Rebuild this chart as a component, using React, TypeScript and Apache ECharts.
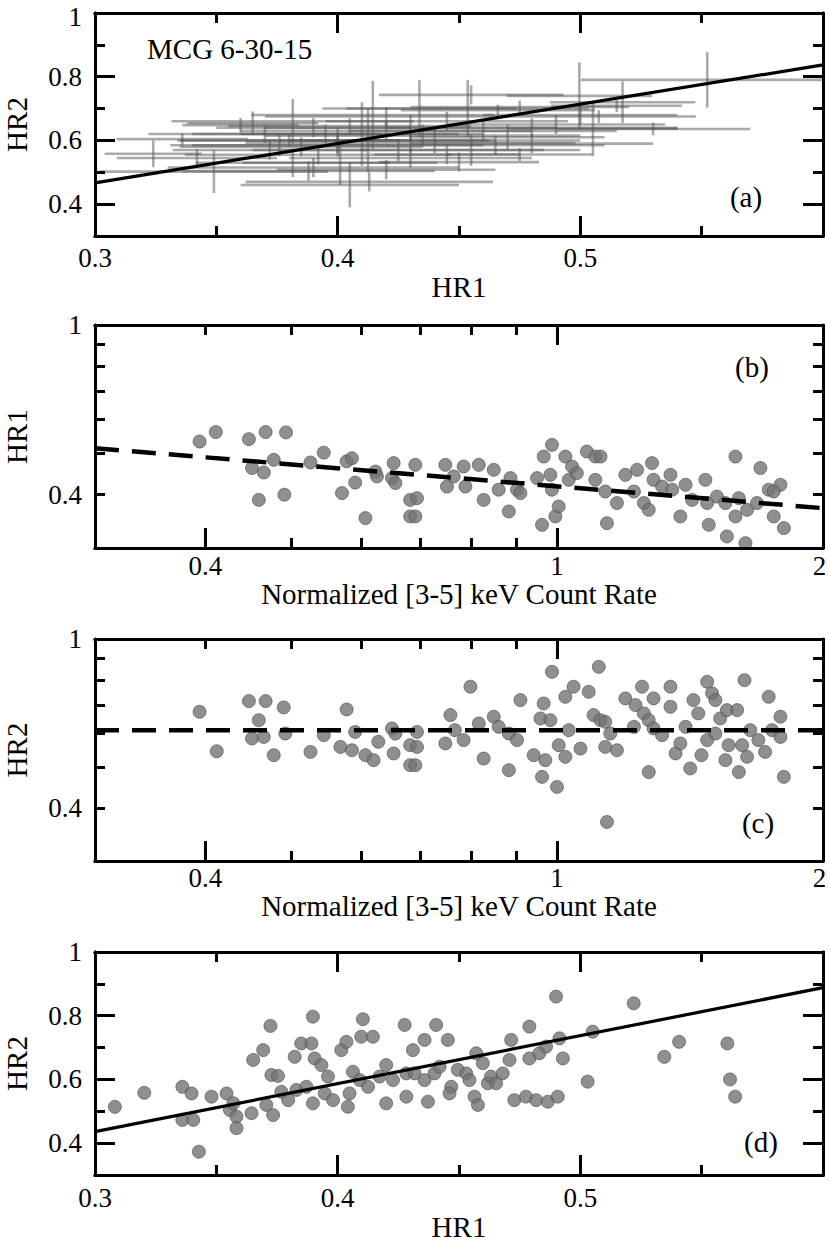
import React, { useEffect, useRef } from 'react';
import * as echarts from 'echarts';

const FONT = "'Liberation Serif', 'Times New Roman', Times, serif";
const L = (v: number) => Math.log10(v);

// ---------- Panel (a): HR1, HR2, HR1 half-error, HR2 half-error ----------
const panelA_errorBars: [number, number, number, number][] = [
  [0.324, 0.558, 0.020, 0.042], [0.336, 0.604, 0.027, 0.018], [0.342, 0.545, 0.033, 0.027],
  [0.349, 0.502, 0.047, 0.067], [0.360, 0.648, 0.024, 0.023], [0.365, 0.654, 0.027, 0.037],
  [0.370, 0.620, 0.048, 0.028], [0.372, 0.570, 0.040, 0.030], [0.376, 0.585, 0.045, 0.035],
  [0.380, 0.600, 0.046, 0.020], [0.3815, 0.660, 0.050, 0.070], [0.3815, 0.530, 0.040, 0.045],
  [0.388, 0.504, 0.052, 0.030], [0.390, 0.640, 0.040, 0.030], [0.392, 0.555, 0.055, 0.030],
  [0.400, 0.585, 0.060, 0.035], [0.401, 0.530, 0.040, 0.070], [0.405, 0.460, 0.045, 0.070],
  [0.410, 0.620, 0.050, 0.100], [0.4125, 0.600, 0.050, 0.100], [0.413, 0.470, 0.051, 0.030],
  [0.4145, 0.680, 0.050, 0.107], [0.420, 0.675, 0.050, 0.030], [0.420, 0.508, 0.045, 0.030],
  [0.430, 0.640, 0.060, 0.040], [0.430, 0.592, 0.068, 0.030], [0.4337, 0.700, 0.040, 0.090],
  [0.440, 0.600, 0.060, 0.040], [0.445, 0.556, 0.030, 0.030], [0.450, 0.532, 0.033, 0.030],
  [0.4536, 0.700, 0.050, 0.090], [0.455, 0.743, 0.038, 0.030], [0.455, 0.570, 0.045, 0.050],
  [0.466, 0.695, 0.040, 0.017], [0.470, 0.610, 0.040, 0.040], [0.475, 0.556, 0.030, 0.020],
  [0.480, 0.590, 0.050, 0.030], [0.490, 0.650, 0.045, 0.030], [0.4996, 0.740, 0.030, 0.105],
  [0.5052, 0.637, 0.035, 0.086], [0.5076, 0.675, 0.040, 0.020], [0.515, 0.709, 0.027, 0.020],
  [0.5174, 0.720, 0.030, 0.065], [0.530, 0.636, 0.040, 0.020], [0.5523, 0.790, 0.052, 0.087],
  [0.395, 0.620, 0.055, 0.030], [0.405, 0.645, 0.050, 0.025], [0.420, 0.630, 0.060, 0.030],
  [0.435, 0.615, 0.065, 0.035], [0.445, 0.660, 0.050, 0.030], [0.460, 0.630, 0.055, 0.030],
  [0.400, 0.600, 0.065, 0.040], [0.385, 0.580, 0.050, 0.030], [0.425, 0.570, 0.060, 0.035],
  [0.430, 0.545, 0.050, 0.030], [0.390, 0.515, 0.060, 0.030], [0.480, 0.640, 0.060, 0.030],
  [0.465, 0.585, 0.045, 0.030], [0.500, 0.680, 0.040, 0.030], [0.475, 0.705, 0.045, 0.020],
];
const fitA: [number, number][] = [[0.3, 0.467], [0.6, 0.837]];

// ---------- Panel (b): normalized [3-5] keV count rate vs HR1 ----------
const panelB_points: [number, number][] = [
  [0.394, 0.533], [0.411, 0.561], [0.448, 0.540], [0.468, 0.561], [0.4935, 0.560], [0.4517, 0.462],
  [0.4657, 0.451], [0.478, 0.483], [0.4597, 0.389], [0.4914, 0.400], [0.526, 0.476], [0.5445, 0.502],
  [0.571, 0.4035], [0.591, 0.427], [0.578, 0.479], [0.586, 0.487], [0.607, 0.3526], [0.623, 0.4533],
  [0.6255, 0.4414], [0.6533, 0.4744], [0.6505, 0.4375], [0.6563, 0.426], [0.682, 0.389], [0.682, 0.3557],
  [0.6913, 0.470], [0.6943, 0.3927], [0.6913, 0.3557], [0.7475, 0.470], [0.7507, 0.418], [0.764, 0.4414],
  [0.784, 0.4658], [0.7876, 0.418], [0.8156, 0.470], [0.826, 0.389], [0.848, 0.4575], [0.859, 0.411],
  [0.882, 0.3654], [0.8857, 0.4375], [0.901, 0.411], [0.909, 0.4035], [0.9493, 0.4375], [0.9617, 0.340],
  [0.9659, 0.4915], [0.9828, 0.4454], [0.987, 0.5236], [0.987, 0.411], [0.9957, 0.3557], [1.0044, 0.3754],
  [1.022, 0.4915], [1.031, 0.4335], [1.04, 0.4658], [1.053, 0.4494], [1.081, 0.505], [1.105, 0.4915],
  [1.12, 0.4915], [1.105, 0.4335], [1.134, 0.407], [1.139, 0.343], [1.169, 0.3825], [1.195, 0.4454],
  [1.232, 0.4575], [1.222, 0.407], [1.254, 0.3825], [1.281, 0.4744], [1.286, 0.4335], [1.27, 0.3687],
  [1.344, 0.4454], [1.315, 0.418], [1.35, 0.411], [1.398, 0.422], [1.379, 0.3557], [1.422, 0.389],
  [1.472, 0.4335], [1.479, 0.3825], [1.485, 0.340], [1.517, 0.396], [1.551, 0.3825], [1.557, 0.3193],
  [1.592, 0.4915], [1.592, 0.3557], [1.606, 0.3927], [1.634, 0.308], [1.641, 0.3687], [1.699, 0.462],
  [1.684, 0.3825], [1.736, 0.411], [1.759, 0.3557], [1.79, 0.422], [1.806, 0.334], [1.759, 0.407],
];
const fitB: [number, number][] = [[0.3, 0.514], [2, 0.372]];

// ---------- Panel (c): normalized [3-5] keV count rate vs HR2 ----------
const panelC_points: [number, number][] = [
  [0.394, 0.674], [0.412, 0.544], [0.448, 0.714], [0.468, 0.714], [0.4906, 0.690], [0.4597, 0.644],
  [0.4517, 0.583], [0.4657, 0.588], [0.478, 0.5326], [0.4926, 0.599], [0.526, 0.542], [0.5445, 0.5937],
  [0.578, 0.6825], [0.5687, 0.557], [0.586, 0.547], [0.591, 0.604], [0.607, 0.5326], [0.62, 0.5184],
  [0.6277, 0.5727], [0.6505, 0.6156], [0.6563, 0.599], [0.6533, 0.5376], [0.682, 0.5623], [0.682, 0.5044],
  [0.6943, 0.604], [0.6943, 0.557], [0.6913, 0.5044], [0.7475, 0.5675], [0.7575, 0.662], [0.7663, 0.610],
  [0.784, 0.578], [0.798, 0.772], [0.8156, 0.6326], [0.826, 0.523], [0.848, 0.656], [0.859, 0.621],
  [0.882, 0.491], [0.882, 0.599], [0.901, 0.578], [0.909, 0.718], [0.941, 0.5326], [0.9577, 0.650],
  [0.9659, 0.705], [0.97, 0.5184], [0.9617, 0.4735], [0.9828, 0.644], [0.987, 0.837], [1.0, 0.4484],
  [1.0044, 0.5623], [1.022, 0.528], [1.022, 0.731], [1.031, 0.610], [1.044, 0.772], [1.063, 0.552],
  [1.086, 0.751], [1.1, 0.662], [1.115, 0.860], [1.12, 0.644], [1.134, 0.557], [1.134, 0.638],
  [1.139, 0.3707], [1.149, 0.599], [1.169, 0.547], [1.195, 0.7246], [1.222, 0.621], [1.227, 0.699],
  [1.248, 0.772], [1.254, 0.668], [1.27, 0.486], [1.27, 0.644], [1.286, 0.6156], [1.286, 0.7246],
  [1.315, 0.5937], [1.344, 0.772], [1.344, 0.6925], [1.362, 0.5376], [1.379, 0.5675], [1.398, 0.621],
  [1.415, 0.4955], [1.427, 0.718], [1.445, 0.668], [1.457, 0.5326], [1.479, 0.793], [1.479, 0.578],
  [1.498, 0.745], [1.511, 0.718], [1.511, 0.599], [1.53, 0.650], [1.551, 0.5184], [1.557, 0.680],
  [1.564, 0.5623], [1.606, 0.486], [1.599, 0.680], [1.63, 0.800], [1.62, 0.5623], [1.641, 0.528],
  [1.655, 0.610], [1.69, 0.578], [1.72, 0.542], [1.736, 0.731], [1.751, 0.610], [1.79, 0.656],
  [1.79, 0.588], [1.806, 0.4735],
];
const fitC: [number, number][] = [[0.3, 0.61], [2, 0.61]];

// ---------- Panel (d): HR1 vs HR2 ----------
const panelD_points: [number, number][] = [
  [0.3082, 0.514], [0.3203, 0.558], [0.336, 0.577], [0.3398, 0.556], [0.336, 0.473], [0.3405, 0.473],
  [0.3428, 0.373], [0.348, 0.546], [0.3542, 0.556], [0.3556, 0.504], [0.3583, 0.483], [0.3583, 0.447],
  [0.357, 0.525], [0.3645, 0.494], [0.3652, 0.661], [0.3693, 0.692], [0.3723, 0.768], [0.3727, 0.614],
  [0.3754, 0.611], [0.3706, 0.520], [0.3734, 0.488], [0.3768, 0.561], [0.3796, 0.535], [0.383, 0.567],
  [0.3823, 0.671], [0.385, 0.713], [0.3892, 0.713], [0.3898, 0.797], [0.3871, 0.577], [0.3898, 0.525],
  [0.3905, 0.666], [0.3933, 0.645], [0.396, 0.609], [0.3947, 0.556], [0.3981, 0.535], [0.4015, 0.692],
  [0.4036, 0.718], [0.4049, 0.556], [0.4042, 0.514], [0.4063, 0.624], [0.4091, 0.598], [0.4104, 0.789],
  [0.4097, 0.734], [0.4145, 0.734], [0.4125, 0.577], [0.4173, 0.609], [0.42, 0.525], [0.42, 0.645],
  [0.4228, 0.598], [0.4276, 0.771], [0.4283, 0.619], [0.4283, 0.546], [0.431, 0.692], [0.4317, 0.619],
  [0.4358, 0.724], [0.4406, 0.771], [0.4454, 0.724], [0.4358, 0.598], [0.4372, 0.530], [0.4399, 0.619],
  [0.442, 0.640], [0.4468, 0.577], [0.4461, 0.556], [0.4495, 0.630], [0.453, 0.619], [0.4543, 0.598],
  [0.4564, 0.546], [0.4571, 0.682], [0.4578, 0.520], [0.4598, 0.651], [0.4619, 0.588], [0.4632, 0.609],
  [0.4653, 0.588], [0.468, 0.619], [0.4708, 0.661], [0.4715, 0.724], [0.4728, 0.535], [0.4776, 0.546],
  [0.479, 0.766], [0.479, 0.666], [0.4818, 0.535], [0.4831, 0.682], [0.4859, 0.703], [0.4866, 0.530],
  [0.49, 0.860], [0.4907, 0.546], [0.4914, 0.729], [0.4928, 0.666], [0.503, 0.593], [0.5051, 0.750],
  [0.522, 0.839], [0.5346, 0.671], [0.5407, 0.718], [0.5606, 0.713], [0.5617, 0.600], [0.5638, 0.546],
];
const fitD: [number, number][] = [[0.3, 0.436], [0.6, 0.888]];

// ---------- Tick values ----------
const hrXMajor = [0.3, 0.4, 0.5];
const hrXMinor = [0.35, 0.45, 0.55];
const hrYMajor = [0.4, 0.6, 0.8];
const hrYMinor = [0.5, 0.7, 0.9];
const hrYLabels = [0.4, 0.6, 0.8, 1];
const rateLabels = [0.4, 1, 2];
const rateMajorBottom = [0.4, 1];
const rateMinorBottom = [0.5, 0.6, 0.7, 0.8, 0.9];
const rateMinorTop = [0.4, 0.5, 0.6, 0.7, 0.8, 0.9];
const logYTicks = [0.4, 0.5, 0.6, 0.7, 0.8, 0.9];
const logYLabels = [0.4, 1];

const panelLabels = ['(a)', '(b)', '(c)', '(d)'];
const sourceName = 'MCG 6-30-15';
const rateTitle = 'Normalized [3-5] keV Count Rate';

type AxOpt = {
  grid: number; pos: string; min: number; max: number; ticks?: number[]; len?: number;
  labels?: number[]; fmt?: (v: number) => string; margin?: number; name?: string; nameGap?: number;
};
function axis(o: AxOpt) {
  return {
    type: 'value', gridIndex: o.grid, position: o.pos, min: o.min, max: o.max,
    axisLine: { show: true, onZero: false, lineStyle: { color: '#000', width: 3 } },
    axisTick: {
      show: !!o.ticks, inside: true, length: o.len ?? 10, customValues: o.ticks,
      lineStyle: { color: '#000', width: 3 },
    },
    axisLabel: o.labels
      ? {
          show: true, customValues: o.labels, formatter: o.fmt, margin: o.margin ?? 8, color: '#000',
          fontSize: 27, fontFamily: FONT, lineHeight: 21,
          rich: {
            r: { padding: [0, 7, 0, 0], fontSize: 27, lineHeight: 21, fontFamily: FONT, color: '#000' },
            t: { padding: [7, 0, 0, 0], fontSize: 27, lineHeight: 21, fontFamily: FONT, color: '#000' },
          },
        }
      : { show: false },
    splitLine: { show: false }, minorTick: { show: false }, minorSplitLine: { show: false },
    name: o.name ?? '', nameLocation: 'middle', nameGap: o.nameGap ?? 0,
    nameTextStyle: { color: '#000', fontSize: 29, fontFamily: FONT },
    z: 5,
  };
}

const linFmt = (v: number) => String(+(+v).toFixed(2));
const linFmtTop = (v: number) => {
  const s = linFmt(v);
  return s === '1' ? '{t|1}' : s;
};
const logFmt = (v: number) => {
  const s = String(+Math.pow(10, v).toFixed(2));
  return s === '2' ? '{r|2}' : s;
};

function buildOption() {
  const grids = [
    { left: 95, top: 13, width: 728, height: 223 },
    { left: 95, top: 325, width: 728, height: 223 },
    { left: 95, top: 639, width: 728, height: 222 },
    { left: 95, top: 952, width: 728, height: 223 },
  ].map((g) => ({ ...g, containLabel: false, outerBoundsMode: 'none', show: false }));

  const xAxis: any[] = [];
  const yAxis: any[] = [];
  const xIdx: number[] = [];
  const yIdx: number[] = [];
  const yNameGap = 64;

  const linPanel = (g: number, xMargin: number, xNameGap: number, yFmt: (v: number) => string) => {
    xIdx[g] = xAxis.length;
    xAxis.push(axis({ grid: g, pos: 'bottom', min: 0.3, max: 0.6, ticks: hrXMajor, len: 20, labels: hrXMajor, fmt: linFmt, margin: xMargin, name: 'HR1', nameGap: xNameGap }));
    xAxis.push(axis({ grid: g, pos: 'bottom', min: 0.3, max: 0.6, ticks: hrXMinor, len: 10 }));
    xAxis.push(axis({ grid: g, pos: 'top', min: 0.3, max: 0.6, ticks: hrXMajor.slice(1), len: 20 }));
    xAxis.push(axis({ grid: g, pos: 'top', min: 0.3, max: 0.6, ticks: hrXMinor, len: 10 }));
    yIdx[g] = yAxis.length;
    yAxis.push(axis({ grid: g, pos: 'left', min: 0.3, max: 1, ticks: hrYMajor, len: 20, labels: hrYLabels, fmt: yFmt, margin: 13, name: 'HR2', nameGap: yNameGap }));
    yAxis.push(axis({ grid: g, pos: 'left', min: 0.3, max: 1, ticks: hrYMinor, len: 10 }));
    yAxis.push(axis({ grid: g, pos: 'right', min: 0.3, max: 1, ticks: hrYMajor, len: 20 }));
    yAxis.push(axis({ grid: g, pos: 'right', min: 0.3, max: 1, ticks: hrYMinor, len: 10 }));
  };
  const logPanel = (g: number, yName: string, xMargin: number) => {
    const xmin = L(0.3), xmax = L(2), ymin = L(0.3), ymax = 0;
    xIdx[g] = xAxis.length;
    xAxis.push(axis({ grid: g, pos: 'bottom', min: xmin, max: xmax, ticks: rateMajorBottom.map(L), len: 20, labels: rateLabels.map(L), fmt: logFmt, margin: xMargin, name: rateTitle, nameGap: 22 }));
    xAxis.push(axis({ grid: g, pos: 'bottom', min: xmin, max: xmax, ticks: rateMinorBottom.map(L), len: 10 }));
    xAxis.push(axis({ grid: g, pos: 'top', min: xmin, max: xmax, ticks: [0], len: 20 }));
    xAxis.push(axis({ grid: g, pos: 'top', min: xmin, max: xmax, ticks: rateMinorTop.map(L), len: 10 }));
    yIdx[g] = yAxis.length;
    yAxis.push(axis({ grid: g, pos: 'left', min: ymin, max: ymax, ticks: logYTicks.map(L), len: 10, labels: logYLabels.map(L), fmt: logFmt, margin: 13, name: yName, nameGap: yNameGap }));
    yAxis.push(axis({ grid: g, pos: 'right', min: ymin, max: ymax, ticks: logYTicks.map(L), len: 10 }));
  };

  linPanel(0, 11, 36, linFmtTop);
  logPanel(1, 'HR1', 7);
  logPanel(2, 'HR2', 6);
  linPanel(3, 12, 37, linFmt);

  const dot = { symbol: 'circle', symbolSize: 13, itemStyle: { color: '#737373', borderColor: '#505050', borderWidth: 0.8 } };
  const solid = (g: number, data: [number, number][]) => ({
    type: 'line', xAxisIndex: xIdx[g], yAxisIndex: yIdx[g], data, symbol: 'none', z: 10,
    lineStyle: { color: '#000', width: 3.2 }, silent: true,
  });
  const dashed = (g: number, data: [number, number][]) => ({
    type: 'line', xAxisIndex: xIdx[g], yAxisIndex: yIdx[g], data: data.map(([x, y]) => [L(x), L(y)]), symbol: 'none', z: 10,
    lineStyle: { color: '#000', width: 4.5, type: [24, 13] }, silent: true,
  });

  const series: any[] = [
    {
      type: 'custom', xAxisIndex: xIdx[0], yAxisIndex: yIdx[0], data: panelA_errorBars, clip: true, z: 3,
      renderItem: (_p: any, api: any) => {
        const x = api.value(0), y = api.value(1), ex = api.value(2), ey = api.value(3);
        const a = api.coord([x - ex, y]), b = api.coord([x + ex, y]);
        const c = api.coord([x, y - ey]), d = api.coord([x, y + ey]);
        const st = { stroke: '#555', lineWidth: 2.6, opacity: 0.5 };
        return {
          type: 'group', children: [
            { type: 'line', shape: { x1: a[0], y1: a[1], x2: b[0], y2: b[1] }, style: st },
            { type: 'line', shape: { x1: c[0], y1: c[1], x2: d[0], y2: d[1] }, style: st },
          ],
        };
      },
    },
    solid(0, fitA),
    { type: 'scatter', xAxisIndex: xIdx[1], yAxisIndex: yIdx[1], data: panelB_points.map(([x, y]) => [L(x), L(y)]), ...dot },
    dashed(1, fitB),
    { type: 'scatter', xAxisIndex: xIdx[2], yAxisIndex: yIdx[2], data: panelC_points.map(([x, y]) => [L(x), L(y)]), ...dot },
    dashed(2, fitC),
    { type: 'scatter', xAxisIndex: xIdx[3], yAxisIndex: yIdx[3], data: panelD_points, ...dot },
    solid(3, fitD),
  ];

  const txt = (x: number, y: number, text: string, align = 'center') => ({
    type: 'text', x, y, z: 20, silent: true,
    style: { text, fill: '#000', fontSize: 29, fontFamily: FONT, align, verticalAlign: 'middle' },
  });
  const graphic = [
    txt(147, 49, sourceName, 'left'),
    txt(746, 197, panelLabels[0]),
    txt(752, 367, panelLabels[1]),
    txt(758, 823, panelLabels[2]),
    txt(761, 1142, panelLabels[3]),
  ];

  return {
    animation: false,
    backgroundColor: '#fff',
    textStyle: { fontFamily: FONT },
    grid: grids,
    xAxis, yAxis, series, graphic,
  };
}

export default function App() {
  const ref = useRef<HTMLDivElement>(null);
  useEffect(() => {
    if (!ref.current) return;
    const chart = echarts.init(ref.current, undefined, { renderer: 'svg' });
    chart.setOption(buildOption() as any);
    return () => chart.dispose();
  }, []);
  return <div ref={ref} style={{ position: 'absolute', left: 0, top: 0, width: 830, height: 1251, background: '#fff' }} />;
}
